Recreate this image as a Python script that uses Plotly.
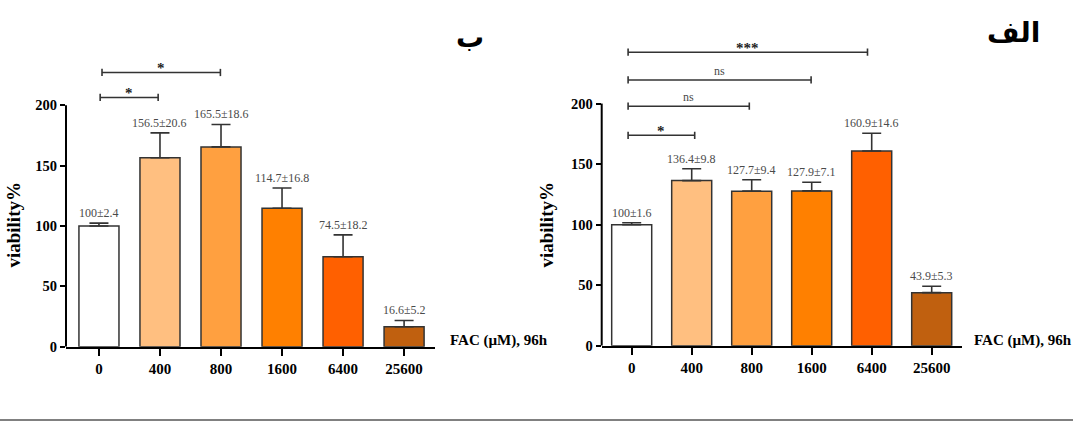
import plotly.graph_objects as go

W, H = 1073, 421
FIG_H = 430  # rendered height (compensates vertical compression seen in output)

categories = ["0", "400", "800", "1600", "6400", "25600"]
colors = ["#FFFFFF", "#FFBF80", "#FFA040", "#FF8000", "#FF6000", "#C0600F"]

# Panel B (left)
b_means = [100, 156.5, 165.5, 114.7, 74.5, 16.6]
b_errs = [2.4, 20.6, 18.6, 16.8, 18.2, 5.2]
b_labels = ["100±2.4", "156.5±20.6", "165.5±18.6", "114.7±16.8", "74.5±18.2", "16.6±5.2"]
# brackets: (start, end, height, text)
b_brackets = [(0.02, 0.97, 206.4, "*"), (0.05, 1.99, 227.1, "*")]

# Panel Alef (right)
a_means = [100, 136.4, 127.7, 127.9, 160.9, 43.9]
a_errs = [1.6, 9.8, 9.4, 7.1, 14.6, 5.3]
a_labels = ["100±1.6", "136.4±9.8", "127.7±9.4", "127.9±7.1", "160.9±14.6", "43.9±5.3"]
a_brackets = [(-0.06, 1.05, 173.8, "*"), (-0.06, 1.96, 197.8, "ns"),
              (-0.06, 2.99, 219.5, "ns"), (-0.06, 3.93, 242.4, "***")]

yticks = [0, 50, 100, 150, 200]
SERIF = "Liberation Serif"

fig = go.Figure()

panels = [
    dict(means=b_means, errs=b_errs, labels=b_labels, brackets=b_brackets,
         xa="x", ya="y", xdom=(66, 434.6), y0px=346, ytop=287.1, xr=(-0.54, 5.5), bw=0.656,
         title="ب", tx=470, ty=37, ytx=14, fac_x=448),
    dict(means=a_means, errs=a_errs, labels=a_labels, brackets=a_brackets,
         xa="x2", ya="y2", xdom=(601.7, 961.7), y0px=345, ytop=285.5, xr=(-0.5, 5.5), bw=0.667,
         title="الف", tx=1013, ty=32, ytx=547, fac_x=972),
]

annotations = []
shapes = []
for i, p in enumerate(panels):
    xs = list(range(len(categories)))
    fig.add_trace(go.Bar(
        x=xs, y=p["means"], width=p["bw"],
        marker=dict(color=colors, line=dict(color="#333333", width=1.5)),
        error_y=dict(type="data", symmetric=False, array=p["errs"],
                     arrayminus=[0] * len(xs), color="#333333", thickness=1.6, width=9.5),
        xaxis=p["xa"], yaxis=p["ya"], hoverinfo="skip", showlegend=False,
    ))
    xkey = "xaxis" if p["xa"] == "x" else "xaxis2"
    ykey = "yaxis" if p["ya"] == "y" else "yaxis2"
    ydom0 = (H - p["y0px"]) / H
    fig.update_layout(**{
        xkey: dict(domain=[p["xdom"][0] / W, p["xdom"][1] / W], range=list(p["xr"]),
                   anchor=p["ya"], tickvals=xs, ticktext=categories,
                   showline=True, linewidth=2, linecolor="black",
                   ticks="outside", ticklen=7, tickwidth=2, tickcolor="black",
                   showgrid=False, zeroline=False, fixedrange=True,
                   tickfont=dict(family=SERIF, size=15, color="black", weight="bold")),
        ykey: dict(domain=[ydom0, 1], range=[0, p["ytop"]], anchor=p["xa"],
                   tickvals=yticks, showline=False, ticks="outside", ticklen=5,
                   tickwidth=2, tickcolor="black", showgrid=False, zeroline=False,
                   fixedrange=True,
                   tickfont=dict(family=SERIF, size=14.5, color="black", weight="bold")),
    })
    # y axis line up to 200
    shapes.append(dict(type="line", xref=f"{p['xa']} domain", yref=p["ya"],
                       x0=0, x1=0, y0=0, y1=max(yticks),
                       line=dict(color="black", width=2)))
    # value labels
    for j in xs:
        annotations.append(dict(x=j, y=p["means"][j] + p["errs"][j], xref=p["xa"], yref=p["ya"],
                                text=p["labels"][j], showarrow=False, yanchor="bottom", yshift=1,
                                font=dict(family=SERIF, size=12, color="#4a4a4a")))
    # brackets
    for (s, e, h, t) in p["brackets"]:
        shapes.append(dict(type="line", xref=p["xa"], yref=p["ya"], x0=s, x1=e, y0=h, y1=h,
                           line=dict(color="#333333", width=1.6)))
        for xe in (s, e):
            shapes.append(dict(type="line", xref=p["xa"], yref=p["ya"], x0=xe, x1=xe,
                               y0=h - 3, y1=h + 3, line=dict(color="#333333", width=1.6)))
        if t == "ns":
            annotations.append(dict(x=(s + e) / 2, y=h, xref=p["xa"], yref=p["ya"], text=t,
                                    showarrow=False, yanchor="bottom", yshift=0,
                                    font=dict(family=SERIF, size=12, color="#4a4a4a")))
        else:
            annotations.append(dict(x=(s + e) / 2, y=h, xref=p["xa"], yref=p["ya"], text=t,
                                    showarrow=False, yanchor="bottom", yshift=-6,
                                    font=dict(family=SERIF, size=15, color="#222222", weight="bold")))
    # panel title
    annotations.append(dict(x=p["tx"] / W, y=(H - p["ty"]) / H, xref="paper", yref="paper",
                            text=p["title"], showarrow=False, xanchor="center", yanchor="middle",
                            font=dict(family="DejaVu Sans", size=28, color="black", weight="bold")))
    # y title
    annotations.append(dict(x=p["ytx"] / W, y=(H - 224) / H, xref="paper", yref="paper",
                            text="viability%", textangle=-90, showarrow=False,
                            xanchor="center", yanchor="middle",
                            font=dict(family=SERIF, size=19, color="black", weight="bold")))
    # x title
    annotations.append(dict(x=p["fac_x"] / W, y=(H - 340) / H, xref="paper", yref="paper",
                            text="FAC (µM), 96h", showarrow=False, xanchor="left", yanchor="middle",
                            font=dict(family=SERIF, size=15, color="black", weight="bold")))

# bottom separator line
shapes.append(dict(type="line", xref="paper", yref="paper", x0=0, x1=1,
                   y0=2 / H, y1=2 / H, line=dict(color="#808080", width=2)))

fig.update_layout(
    width=W, height=FIG_H, margin=dict(l=0, r=0, t=0, b=0),
    paper_bgcolor="white", plot_bgcolor="white",
    annotations=annotations, shapes=shapes, showlegend=False, bargap=0.3,
)

page_fix = "document.body.style.margin='0';document.body.style.overflow='hidden';"
fig.write_html("out.html", config={"displayModeBar": False}, post_script=page_fix)
